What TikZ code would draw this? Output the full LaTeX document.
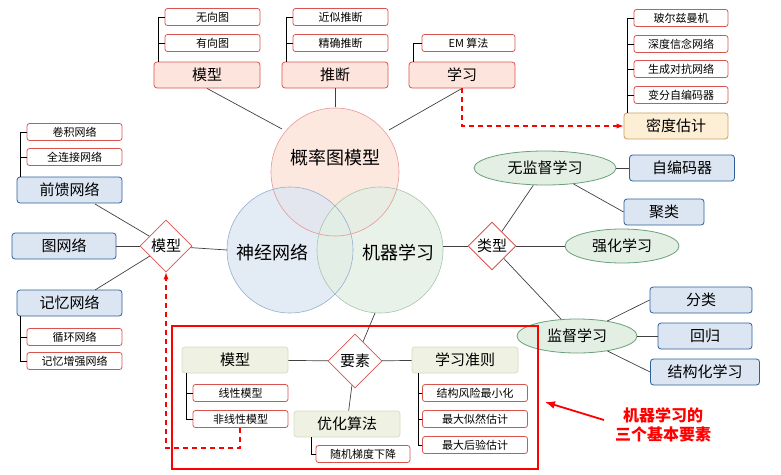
\documentclass[tikz,border=0pt]{standalone}
\usepackage{fontspec}
\setmainfont{Noto Sans CJK SC}
\usetikzlibrary{shapes.geometric,arrows.meta}
\definecolor{rb}{HTML}{D9534F}
\definecolor{rf}{HTML}{FDE5DD}
\definecolor{bb}{HTML}{2E5F9A}
\definecolor{bf}{HTML}{DCE6F2}
\definecolor{gb}{HTML}{6AA07A}
\definecolor{gf}{HTML}{E3EFE3}
\definecolor{yb}{HTML}{D8DCC0}
\definecolor{yf}{HTML}{EFF1E2}
\definecolor{of}{HTML}{FDEFD5}
\definecolor{ob}{HTML}{C8A060}
\begin{document}
\begin{tikzpicture}[x=1pt,y=-1pt,
 sm/.style={draw=rb,fill=white,rounded corners=2.5pt,line width=0.8pt,minimum height=17pt,font=\fontsize{11}{11}\selectfont,inner sep=1pt},
 rbig/.style={draw=rb,fill=rf,rounded corners=3pt,line width=0.8pt,minimum height=26pt,minimum width=106pt,font=\fontsize{15}{15}\selectfont},
 bbig/.style={draw=bb,fill=bf,rounded corners=3pt,line width=0.8pt,minimum height=26pt,font=\fontsize{15}{15}\selectfont},
 ybig/.style={draw=yb,fill=yf,rounded corners=3pt,line width=0.8pt,minimum height=26pt,minimum width=106pt,font=\fontsize{15}{15}\selectfont},
 ell/.style={ellipse,draw=gb,fill=gf,line width=0.8pt,inner sep=0pt,font=\fontsize{15}{15}\selectfont},
 dia/.style={diamond,draw=rb,fill=white,line width=0.8pt,inner sep=1pt,aspect=1,font=\fontsize{15}{15}\selectfont},
 ln/.style={draw=black!75,line width=0.7pt},
 tr/.style={draw=black,line width=0.8pt},
 dsh/.style={draw=red,line width=1.2pt,dash pattern=on 5pt off 4pt}]
\useasboundingbox (0,0) rectangle (781,474);
% circles
\fill[rf,opacity=0.9] (335,172) circle (64);
\fill[bf,opacity=0.8] (290,250) circle (63);
\fill[gf,opacity=0.8] (380,250) circle (63);
\draw[rb!60,line width=0.6pt] (335,172) circle (64);
\draw[bb!50,line width=0.6pt] (290,250) circle (63);
\draw[gb!60,line width=0.6pt] (380,250) circle (63);
\node[font=\fontsize{18}{18}\selectfont] (pgm) at (335,158) {概率图模型};
\node[font=\fontsize{18}{18}\selectfont] (nn) at (272,253) {神经网络};
\node[font=\fontsize{18}{18}\selectfont] (ml) at (398,253) {机器学习};
% top
\node[rbig] (mx) at (207,75) {模型};
\node[rbig] (tl) at (335,75) {推断};
\node[rbig] (xx) at (462,75) {学习};
\node[sm,minimum width=95pt] (w1) at (212.5,17) {无向图};
\node[sm,minimum width=95pt] (w2) at (212.5,43) {有向图};
\node[sm,minimum width=95pt] (j1) at (340.5,17) {近似推断};
\node[sm,minimum width=95pt] (j2) at (340.5,43) {精确推断};
\node[sm,minimum width=93pt] (em) at (468.5,43) {EM 算法};
\draw[tr] (w1.west) -| (158,62); \draw[tr] (w2.west) -- (158,43);
\draw[tr] (j1.west) -| (286,62); \draw[tr] (j2.west) -- (286,43);
\draw[tr] (em.west) -| (413,62);
\draw[ln] (mx.south) -- (282,129);
\draw[ln] (tl.south) -- (335,107);
\draw[ln] (xx.south) -- (389,130);
% right
\node[draw=ob,fill=of,rounded corners=3pt,line width=0.8pt,minimum height=26pt,minimum width=104pt,font=\fontsize{15}{15}\selectfont] (md) at (676,126) {密度估计};
\node[sm,minimum width=94pt] (r1) at (681,18) {玻尔兹曼机};
\node[sm,minimum width=94pt] (r2) at (681,44) {深度信念网络};
\node[sm,minimum width=94pt] (r3) at (681,69) {生成对抗网络};
\node[sm,minimum width=94pt] (r4) at (681,95) {变分自编码器};
\draw[tr] (r1.west) -| (627,113);
\draw[tr] (r2.west) -- ++(-7,0); \draw[tr] (r3.west) -- ++(-7,0); \draw[tr] (r4.west) -- ++(-7,0);
\draw[dsh,-{Latex[length=7pt]}] (xx.south) -- (462,126) -- (md.west);
\node[ell,minimum width=142pt,minimum height=34pt] (wj) at (545,168) {无监督学习};
\node[bbig,minimum width=105pt] (zb) at (682,168) {自编码器};
\node[bbig,minimum width=80pt] (jl) at (664,212) {聚类};
\node[dia,minimum size=42pt] (lx) at (492,246) {类型};
\node[ell,minimum width=114pt,minimum height=34pt] (qh) at (622,246) {强化学习};
\node[ell,minimum width=120pt,minimum height=34pt] (jd) at (577,336) {监督学习};
\node[bbig,minimum width=102pt] (fl) at (701,300) {分类};
\node[bbig,minimum width=94pt] (hg) at (705,336) {回归};
\node[bbig,minimum width=109pt] (jg) at (705,372) {结构化学习};
\draw[ln] (wj) -- (zb); \draw[ln] (wj) -- (jl.west);
\draw[ln] (lx) -- (wj); \draw[ln] (lx) -- (qh); \draw[ln] (lx) -- (jd);
\draw[ln] (jd) -- (fl.west); \draw[ln] (jd) -- (hg); \draw[ln] (jd) -- (jg.west);
\draw[ln] (443,246) -- (lx.west);
% left
\node[dia,minimum size=52pt] (lm) at (166,246) {模型};
\node[bbig,minimum width=105pt] (qk) at (69.5,190) {前馈网络};
\node[bbig,minimum width=104pt] (tw) at (64,246) {图网络};
\node[bbig,minimum width=105pt] (jy) at (69.5,303) {记忆网络};
\node[sm,minimum width=95pt] (l1) at (74.5,132) {卷积网络};
\node[sm,minimum width=95pt] (l2) at (74.5,157) {全连接网络};
\node[sm,minimum width=95pt] (l3) at (74.5,337) {循环网络};
\node[sm,minimum width=95pt] (l4) at (74.5,361) {记忆增强网络};
\draw[tr] (l1.west) -| (20,177); \draw[tr] (l2.west) -- (20,157);
\draw[tr] (20,316) |- (l4.west); \draw[tr] (l3.west) -- (20,337);
\draw[ln] (95,204) -- (lm); \draw[ln] (tw) -- (lm); \draw[ln] (95,290) -- (lm);
\draw[ln] (lm) -- (227,250);
% bottom
\draw[red,line width=2.2pt] (172,326) rectangle (538,469);
\node[dia,minimum size=54pt] (ys) at (355,361) {要素};
\node[ybig] (bm) at (235,360) {模型};
\node[ybig] (zz) at (465,360) {学习准则};
\node[ybig] (yh) at (347,424) {优化算法};
\node[sm,minimum width=95pt] (b1) at (240.5,393) {线性模型};
\node[sm,minimum width=95pt] (b2) at (240.5,419) {非线性模型};
\node[sm,minimum width=94pt] (b3) at (363,454) {随机梯度下降};
\node[sm,minimum width=105pt] (b4) at (475,393) {结构风险最小化};
\node[sm,minimum width=105pt] (b5) at (475,419) {最大似然估计};
\node[sm,minimum width=105pt] (b6) at (475,445) {最大后验估计};
\draw[tr] (186,373) |- (b2.west); \draw[tr] (b1.west) -- (186,393);
\draw[tr] (311,437) |- (b3.west);
\draw[tr] (418,373) |- (b6.west); \draw[tr] (b4.west) -- (418,393); \draw[tr] (b5.west) -- (418,419);
\draw[ln] (bm) -- (ys); \draw[ln] (ys) -- (zz); \draw[ln] (ys) -- (yh);
\draw[ln] (375,313) -- (ys);
\draw[dsh,-{Latex[length=7pt]}] (240,428) -- (240,448) -- (166,448) -- (lm.south);
% annotation
\node[red,font=\bfseries\fontsize{16}{19}\selectfont,align=center] (ann) at (663,425) {机器学习的\\三个基本要素};
\coordinate (at) at (545,402);
\draw[red,line width=1.8pt,-{Latex[length=10pt,width=8pt]}] (604,420) -- (at);
\end{tikzpicture}
\end{document}
